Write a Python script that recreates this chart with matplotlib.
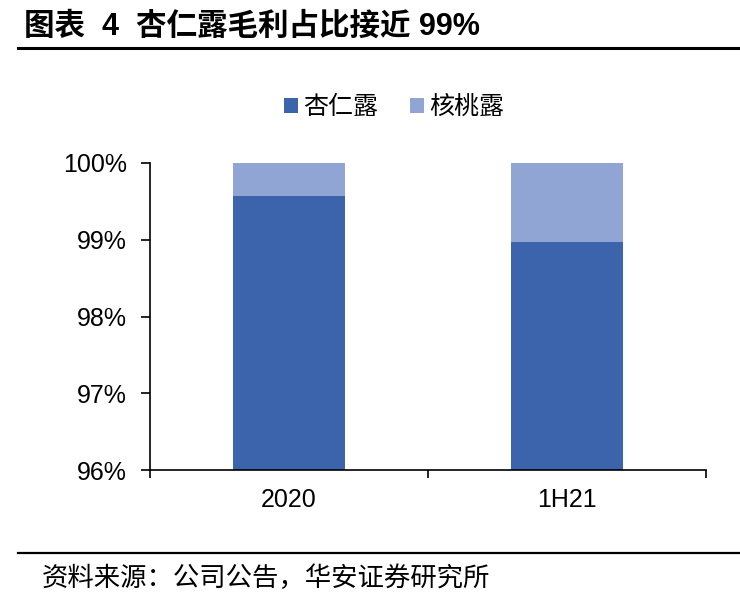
import matplotlib
matplotlib.use('Agg')
import matplotlib.pyplot as plt
from matplotlib.lines import Line2D
import numpy as np

plt.rcParams['font.family'] = ['Liberation Sans', 'Noto Sans CJK SC']
plt.rcParams['axes.unicode_minus'] = False

categories = ['2020', '1H21']
series_names = ['杏仁露', '核桃露']
almond = [99.57, 98.97]
walnut = [100 - v for v in almond]
y_ticks = [96, 97, 98, 99, 100]

color_almond = '#3C64AC'
color_walnut = '#91A5D4'

fig = plt.figure(figsize=(7.40, 6.08), dpi=100)
ax = fig.add_axes([150 / 740, 1 - 470 / 608, 556 / 740, 307 / 608])

x = np.arange(len(categories))
bar_w = 0.4
ax.bar(x, almond, width=bar_w, color=color_almond, label=series_names[0], zorder=2)
ax.bar(x, walnut, bottom=almond, width=bar_w, color=color_walnut,
       label=series_names[1], zorder=2)

ax.set_ylim(96, 100)
ax.set_xlim(-0.5, len(categories) - 0.5)
ax.set_yticks(y_ticks)
ax.set_yticklabels([f'{t}%' for t in y_ticks], fontsize=18)

# category boundaries carry the tick marks, labels sit in the middle
ax.set_xticks(np.arange(-0.5, len(categories), 1.0))
ax.set_xticklabels([])
ax.set_xticks(x, minor=True)
ax.set_xticklabels(categories, minor=True, fontsize=18)
ax.tick_params(axis='x', which='minor', length=0, pad=13)
ax.tick_params(axis='x', which='major', length=5.5, width=1.2, direction='out')
ax.tick_params(axis='y', length=6.5, width=1.2, direction='out', pad=10)

ax.spines['top'].set_visible(False)
ax.spines['right'].set_visible(False)
for s in ('left', 'bottom'):
    ax.spines[s].set_linewidth(1.2)

ax.legend(loc='center', bbox_to_anchor=(394 / 740, 1 - 107 / 608),
          bbox_transform=fig.transFigure, ncol=2, frameon=False,
          prop={'family': ['Noto Sans CJK SC'], 'size': 18},
          handlelength=0.55, handleheight=0.55, handletextpad=0.2,
          columnspacing=1.3)

# title and source blocks
fig.text(24 / 740, 1 - 27 / 608, '图表  4  杏仁露毛利占比接近 99%', fontsize=22,
         fontweight='bold', va='center', ha='left')
fig.add_artist(Line2D([18 / 740, 1.0], [1 - 48 / 608] * 2, color='black', lw=2.2))
fig.add_artist(Line2D([18 / 740, 1.0], [1 - 553 / 608] * 2, color='black', lw=1.6))
fig.text(42 / 740, 1 - 578 / 608, '资料来源：公司公告，华安证券研究所', fontsize=19,
         va='center', ha='left', family=['Noto Sans CJK SC'])

fig.savefig('out.png', dpi=100, facecolor='white')
